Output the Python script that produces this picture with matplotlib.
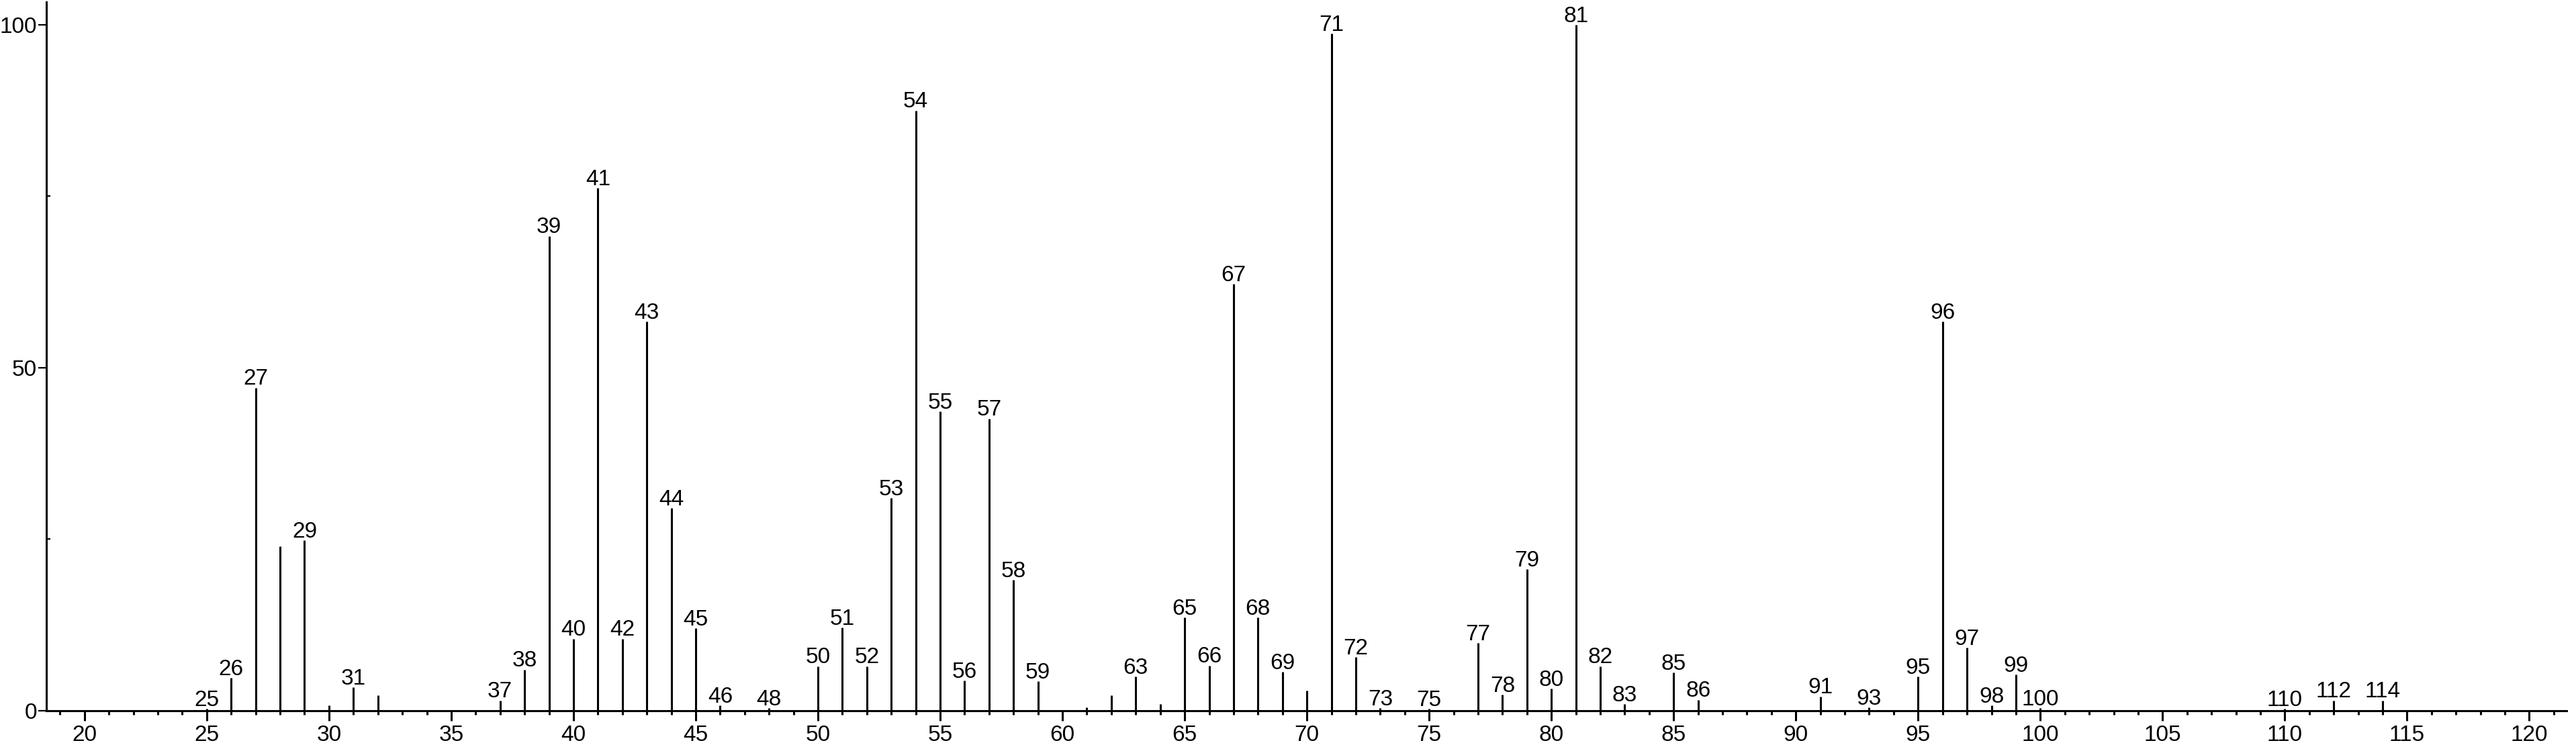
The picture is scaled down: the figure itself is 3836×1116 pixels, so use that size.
import matplotlib.pyplot as plt
from matplotlib.ticker import MultipleLocator, FixedLocator

plt.rcParams['font.family'] = ['Liberation Sans', 'DejaVu Sans']

# m/z values and relative intensities
mz = [25, 26, 27, 28, 29, 30, 31, 32, 37, 38, 39, 40, 41, 42, 43, 44, 45, 46,
      48, 50, 51, 52, 53, 54, 55, 56, 57, 58, 59, 61, 62, 63, 64, 65, 66, 67,
      68, 69, 70, 71, 72, 73, 75, 77, 78, 79, 80, 81, 82, 83, 85, 86, 91, 93,
      95, 96, 97, 98, 99, 100, 110, 112, 114]
intensity = [0.3, 4.8, 47.1, 24.0, 24.8, 0.8, 3.4, 2.2, 1.5, 6.0, 69.2, 10.5,
             76.2, 10.5, 56.7, 29.5, 12.0, 0.8, 0.4, 6.5, 12.1, 6.5, 31.0, 87.5,
             43.6, 4.4, 42.6, 19.1, 4.3, 0.5, 2.2, 5.0, 1.0, 13.6, 6.6, 62.2,
             13.6, 5.7, 2.9, 98.7, 7.8, 0.4, 0.3, 9.9, 2.3, 20.6, 3.2, 100.0,
             6.5, 1.0, 5.6, 1.6, 2.1, 0.5, 5.0, 56.7, 9.2, 0.8, 5.3, 0.4, 0.3,
             1.5, 1.5]

# peaks that carry a number label
labeled = [25, 26, 27, 29, 31, 37, 38, 39, 40, 41, 42, 43, 44, 45, 46, 48, 50,
           51, 52, 53, 54, 55, 56, 57, 58, 59, 63, 65, 66, 67, 68, 69, 71, 72,
           73, 75, 77, 78, 79, 80, 81, 82, 83, 85, 86, 91, 93, 95, 96, 97, 98,
           99, 100, 110, 112, 114]

fig = plt.figure(figsize=(38.36, 11.16), dpi=100)
ax = fig.add_axes([0.018, 0.0511, 0.9783, 0.9462])

ax.vlines(mz, 0, intensity, color='black', linewidth=2.2)

for m, h in zip(mz, intensity):
    if m in labeled:
        ax.annotate(str(m), (m, h), xytext=(0, 3), textcoords='offset points',
                    ha='center', va='baseline', fontsize=24)

ax.set_xlim(18.44, 121.52)
ax.set_ylim(0, 103.3)

ax.spines['top'].set_visible(False)
ax.spines['right'].set_visible(False)
ax.spines['left'].set_linewidth(2.2)
ax.spines['bottom'].set_linewidth(2.2)

ax.xaxis.set_major_locator(MultipleLocator(5))
ax.xaxis.set_minor_locator(MultipleLocator(1))
ax.yaxis.set_major_locator(FixedLocator([0, 50, 100]))
ax.yaxis.set_minor_locator(FixedLocator([25, 75]))

ax.tick_params(axis='x', which='major', direction='out', length=11, width=2.2,
               labelsize=24, pad=4)
ax.tick_params(axis='x', which='minor', direction='out', length=4, width=2.2)
ax.tick_params(axis='y', which='major', direction='out', length=8.5, width=1.6,
               labelsize=24, pad=1.5)
ax.tick_params(axis='y', which='minor', direction='in', length=4, width=1.6)

fig.savefig('out.png', dpi=100)
